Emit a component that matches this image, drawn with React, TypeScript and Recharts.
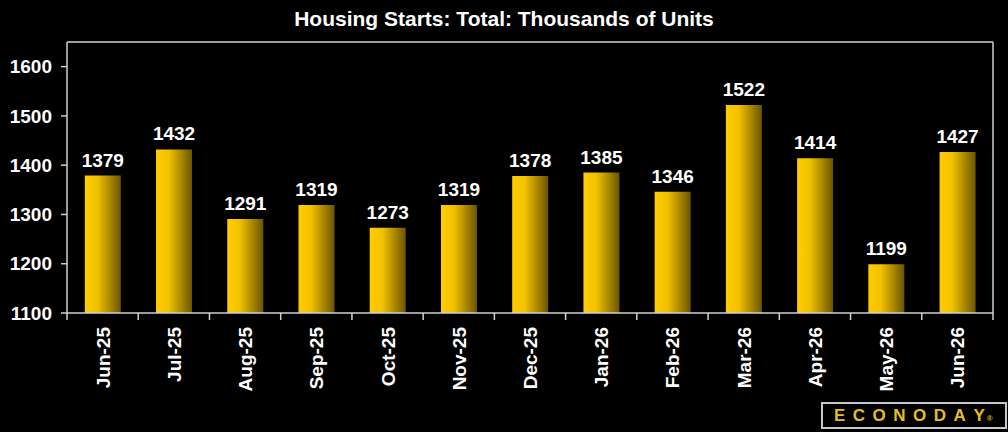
import React from 'react';
import { BarChart, Bar, XAxis, YAxis, ReferenceLine, LabelList } from 'recharts';

const months = ['Jun-25', 'Jul-25', 'Aug-25', 'Sep-25', 'Oct-25', 'Nov-25', 'Dec-25', 'Jan-26', 'Feb-26', 'Mar-26', 'Apr-26', 'May-26', 'Jun-26'];
const starts = [1379, 1432, 1291, 1319, 1273, 1319, 1378, 1385, 1346, 1522, 1414, 1199, 1427];
const yTicks = [1100, 1200, 1300, 1400, 1500, 1600];

const data = months.map((month, i) => ({ month, value: starts[i] }));

const W = 1008;
const H = 432;
const margin = { top: 42, right: 0, left: 0, bottom: 0 };
const yWidth = 67;
const rightWidth = 15;
const bandWidth = (W - yWidth - rightWidth) / months.length;
const font = '"Liberation Sans", Arial, sans-serif';
const axisColor = '#d0d0d0';

// month label plus the small tick marks that sit between the bars
function MonthTick(props: any) {
  const { x, y, payload, index } = props;
  const axisY = y - 4;
  return (
    <g>
      <line x1={x - bandWidth / 2} y1={axisY} x2={x - bandWidth / 2} y2={axisY + 7} stroke={axisColor} strokeWidth={1.5} />
      {index === months.length - 1 && (
        <line x1={x + bandWidth / 2} y1={axisY} x2={x + bandWidth / 2} y2={axisY + 7} stroke={axisColor} strokeWidth={1.5} />
      )}
      <text
        x={0}
        y={0}
        transform={`translate(${x + 7},${axisY + 14}) rotate(-90)`}
        textAnchor="end"
        fill="#fff"
        fontFamily={font}
        fontWeight="bold"
        fontSize={19}
      >
        {payload.value}
      </text>
    </g>
  );
}

export default function App() {
  return (
    <div style={{ position: 'fixed', left: 0, top: 0, width: W, height: H, background: '#000', fontFamily: font }}>
      <div
        style={{
          position: 'absolute',
          top: 7,
          left: 0,
          width: W,
          textAlign: 'center',
          color: '#fff',
          fontWeight: 'bold',
          fontSize: 21,
        }}
      >
        Housing Starts: Total: Thousands of Units
      </div>
      <BarChart width={W} height={H} data={data} margin={margin} barCategoryGap="25%">
        <defs>
          <linearGradient id="barFill" x1="0" y1="0" x2="1" y2="0">
            <stop offset="0%" stopColor="#ffcc00" />
            <stop offset="35%" stopColor="#f2c200" />
            <stop offset="100%" stopColor="#6a5500" />
          </linearGradient>
        </defs>
        <XAxis
          dataKey="month"
          interval={0}
          height={119}
          stroke={axisColor}
          strokeWidth={1.5}
          tickLine={false}
          tickSize={0}
          tickMargin={4}
          tick={<MonthTick />}
        />
        <YAxis
          domain={[1100, 1650]}
          ticks={yTicks}
          width={yWidth}
          stroke={axisColor}
          strokeWidth={1.5}
          tickSize={6}
          tickMargin={9}
          tick={{ fill: '#fff', fontSize: 19, fontWeight: 'bold', fontFamily: font }}
          allowDataOverflow
        />
        <YAxis yAxisId="right" orientation="right" domain={[1100, 1650]} width={rightWidth} stroke={axisColor} strokeWidth={1.5} tick={false} tickLine={false} />
        <ReferenceLine y={1650} stroke={axisColor} strokeWidth={1.5} />
        <Bar dataKey="value" fill="url(#barFill)" isAnimationActive={false}>
          <LabelList dataKey="value" position="top" offset={9} fill="#fff" fontSize={19} fontWeight="bold" fontFamily={font} />
        </Bar>
      </BarChart>
      <div
        style={{
          position: 'absolute',
          left: 821,
          top: 402,
          width: 168,
          height: 23,
          border: '2px solid #c8c8c8',
          background: '#000',
          color: '#e6bf1e',
          fontWeight: 'bold',
          fontSize: 17,
          lineHeight: '23px',
          paddingLeft: 11,
          paddingRight: 3,
          boxSizing: 'content-box',
          whiteSpace: 'nowrap',
          overflow: 'hidden',
        }}
      >
        <span style={{ letterSpacing: 7.5 }}>ECONODA</span>
        <span>Y</span>
        <span style={{ fontSize: 8, marginLeft: 2 }}>®</span>
      </div>
    </div>
  );
}
